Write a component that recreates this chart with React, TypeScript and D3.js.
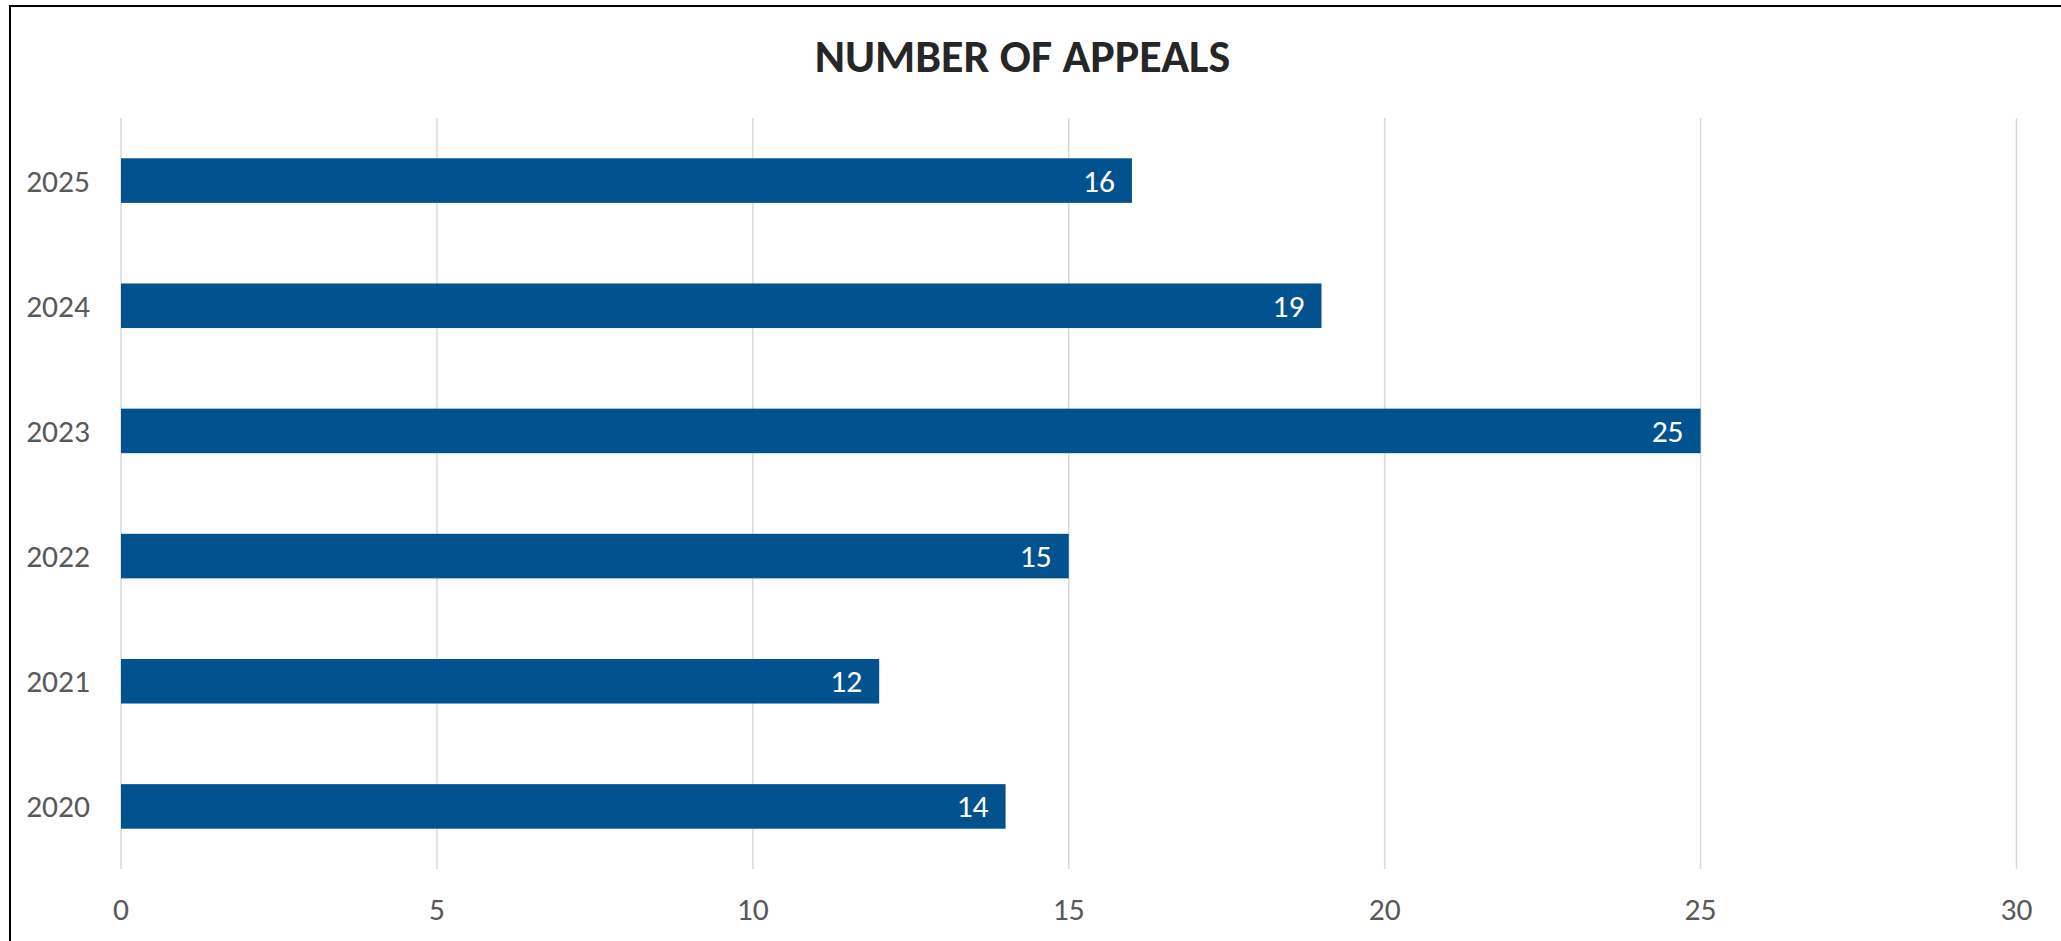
import React, { useEffect } from "react";
import * as d3 from "d3";

const years: string[] = ["2025", "2024", "2023", "2022", "2021", "2020"];
const appeals: number[] = [16, 19, 25, 15, 12, 14];
const xTicks: number[] = [0, 5, 10, 15, 20, 25, 30];
const title = "NUMBER OF APPEALS";

const W = 2061;
const H = 941;
const FONT = "Calibri, Carlito, 'Open Sans', sans-serif";

export default function App() {
  useEffect(() => {
    document.body.style.margin = "0";
  }, []);

  const x = d3.scaleLinear().domain([0, 30]).range([121, 2016.5]);
  const y = d3
    .scaleBand<string>()
    .domain(years)
    .range([118, 869])
    .paddingInner(0.644)
    .paddingOuter(0.322);

  return (
    <svg width={W} height={H} style={{ display: "block", background: "#fff" }}>
      <rect x={0} y={0} width={W} height={H} fill="#fff" />
      <rect x={10} y={6} width={W + 20} height={H + 20} fill="none" stroke="#000" strokeWidth={2} />
      <text
        x={1022.5}
        y={71.5}
        textAnchor="middle"
        fontFamily={FONT}
        fontWeight="bold"
        fontSize={46}
        fill="#262626"
      >
        {title}
      </text>
      {xTicks.map((t) => (
        <line
          key={"g" + t}
          x1={x(t)}
          x2={x(t)}
          y1={118}
          y2={869}
          stroke="#d9d9d9"
          strokeWidth={1.5}
        />
      ))}
      {xTicks.map((t) => (
        <text
          key={"t" + t}
          x={x(t)}
          y={920}
          textAnchor="middle"
          fontFamily={FONT}
          fontSize={31.5}
          fill="#595959"
        >
          {t}
        </text>
      ))}
      {years.map((yr, i) => (
        <g key={yr}>
          <rect
            x={x(0)}
            y={y(yr)!}
            width={x(appeals[i]) - x(0)}
            height={y.bandwidth()}
            fill="#02528F"
          />
          <text
            x={90}
            y={y(yr)! + y.bandwidth() / 2}
            dy="0.35em"
            textAnchor="end"
            fontFamily={FONT}
            fontSize={31.5}
            fill="#595959"
          >
            {yr}
          </text>
          <text
            x={x(appeals[i]) - 17}
            y={y(yr)! + y.bandwidth() / 2}
            dy="0.35em"
            textAnchor="end"
            fontFamily={FONT}
            fontSize={31.5}
            fill="#ffffff"
          >
            {appeals[i]}
          </text>
        </g>
      ))}
    </svg>
  );
}
